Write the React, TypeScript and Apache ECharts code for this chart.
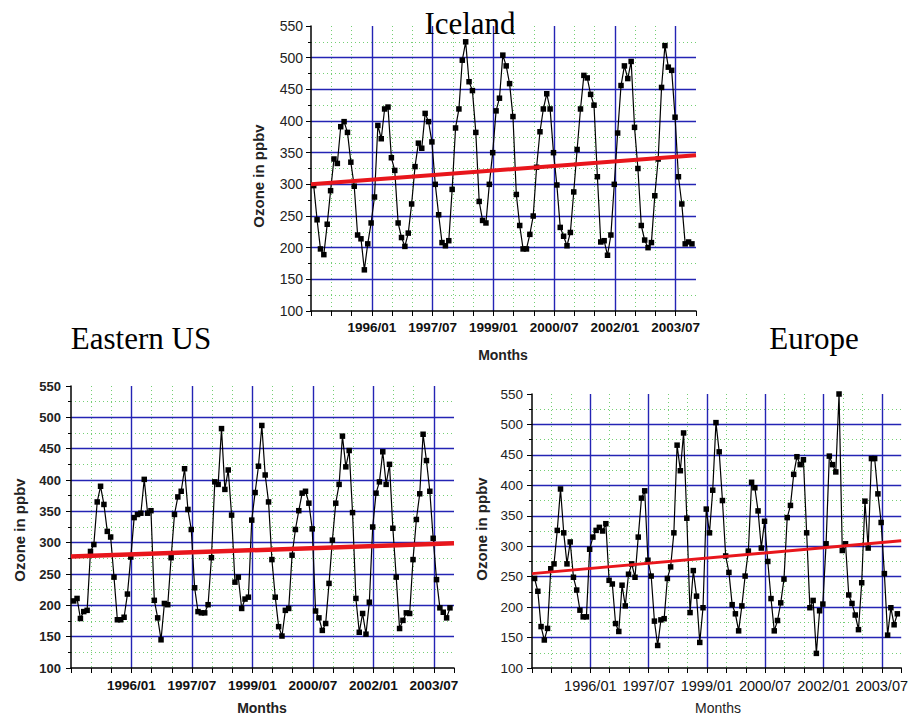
import React, { useEffect, useRef } from "react";
import * as echarts from "echarts";

// Monthly ozone (ppbv), first value = July 1994
const icelandValues = [
  298, 244, 198, 189, 237, 290, 340, 333, 391, 399,
  382, 335, 297, 220, 214, 165, 206, 239, 280, 393,
  372, 419, 422, 342, 322, 239, 216, 202, 223, 269,
  328, 365, 357, 412, 399, 367, 300, 252, 208, 203,
  211, 292, 389, 419, 496, 525, 462, 448, 382, 273,
  243, 239, 300, 350, 416, 436, 504, 487, 459, 407,
  284, 235, 198, 198, 221, 250, 327, 383, 419, 443,
  419, 350, 299, 232, 218, 203, 224, 288, 355, 419,
  472, 468, 442, 425, 312, 209, 211, 188, 220, 300,
  381, 456, 487, 467, 494, 390, 325, 235, 212, 200,
  208, 282, 340, 453, 519, 485, 480, 406, 312, 269,
  206, 209, 206,
];
const easternUSValues = [
  207, 211, 179, 190, 192, 286, 297, 365, 390, 361,
  318, 309, 245, 177, 177, 181, 218, 277, 340, 345,
  347, 401, 347, 351, 208, 180, 145, 203, 201, 276,
  345, 373, 382, 418, 353, 321, 228, 190, 188, 188,
  201, 276, 397, 393, 482, 385, 416, 344, 237, 245,
  195, 210, 213, 336, 380, 422, 487, 408, 365, 273,
  213, 166, 151, 192, 195, 280, 321, 351, 379, 382,
  363, 322, 191, 180, 160, 171, 235, 304, 363, 393,
  470, 421, 447, 348, 211, 157, 187, 154, 205, 325,
  379, 397, 445, 393, 425, 323, 245, 163, 176, 188,
  187, 273, 337, 378, 473, 431, 382, 307, 241, 196,
  189, 180, 196,
];
const europeValues = [
  247, 226, 168, 146, 165, 263, 271, 326, 394, 322,
  271, 307, 249, 228, 195, 184, 184, 295, 315, 326,
  331, 325, 337, 244, 238, 173, 160, 236, 202, 254,
  271, 249, 315, 379, 391, 277, 251, 177, 137, 179,
  181, 247, 266, 322, 466, 424, 486, 346, 191, 260,
  218, 142, 199, 361, 322, 392, 503, 455, 375, 284,
  257, 204, 189, 161, 202, 251, 292, 405, 396, 358,
  297, 341, 275, 214, 161, 178, 207, 246, 347, 367,
  418, 447, 434, 442, 322, 199, 211, 124, 194, 205,
  304, 448, 434, 422, 550, 293, 304, 220, 206, 187,
  163, 240, 374, 297, 444, 444, 386, 339, 255, 154,
  199, 171, 189,
];

// Linear trend: value at start (1994/07) and end (2004/01) of the axis
const icelandTrend = [300, 346];
const easternUSTrend = [278, 299];
const europeTrend = [255, 309];

const titles = ["Iceland", "Eastern US", "Europe"];
const tickLabels = ["1996/01", "1997/07", "1999/01", "2000/07", "2002/01", "2003/07"];

const START_YEAR = 1994;
const START_MONTH = 7; // axis origin = 1994/07
const AXIS_MONTHS = 114; // to 2004/01
const POINT_OFFSET = 0.8; // monthly means sit inside their month

const BLUE = "#2424b4";
const GREEN = "#74cf74";
const RED = "#e8161c";
const SANS = '"Liberation Sans", Arial, sans-serif';
const SERIF = '"Liberation Serif", "Times New Roman", serif';

function monthLabel(v: number): string {
  const t = START_YEAR * 12 + (START_MONTH - 1) + Math.round(v);
  const y = Math.floor(t / 12);
  const m = (t % 12) + 1;
  const s = `${y}/${m < 10 ? "0" + m : m}`;
  return tickLabels.indexOf(s) >= 0 ? s : "";
}

export default function App() {
  const ref = useRef<HTMLDivElement>(null);
  useEffect(() => {
    document.body.style.margin = "0";
    if (!ref.current) return;
    const chart = echarts.init(ref.current, null, { renderer: "svg" });

    const grids = [
      { left: 311, top: 26, width: 385, height: 285 },
      { left: 71, top: 386, width: 383, height: 282 },
      { left: 532, top: 394, width: 373, height: 274 },
    ];
    const xLabelStyles = [
      { fontSize: 13.5, fontWeight: "bold" as const, margin: 9 },
      { fontSize: 13.5, fontWeight: "bold" as const, margin: 10 },
      { fontSize: 14.5, fontWeight: "normal" as const, margin: 10 },
    ];
    const yLabelStyles = [
      { fontSize: 14, fontWeight: "normal" as const, margin: 8 },
      { fontSize: 13, fontWeight: "bold" as const, margin: 10 },
      { fontSize: 13.5, fontWeight: "normal" as const, margin: 9 },
    ];

    const xAxis: any[] = [];
    const yAxis: any[] = [];
    grids.forEach((_, g) => {
      xAxis.push({
        gridIndex: g,
        type: "value",
        position: "bottom",
        min: 0,
        max: AXIS_MONTHS,
        interval: 18,
        z: 3,
        axisLine: { show: true, onZero: false, lineStyle: { color: "#000", width: 1.5 } },
        axisTick: { show: false },
        axisLabel: {
          formatter: (v: number) => monthLabel(v),
          color: "#111",
          fontFamily: SANS,
          ...xLabelStyles[g],
        },
        splitLine: {
          show: true,
          showMinLine: false,
          showMaxLine: false,
          lineStyle: { color: BLUE, width: 1.4 },
        },
      });
      xAxis.push({
        gridIndex: g,
        type: "value",
        position: "bottom",
        min: 0,
        max: AXIS_MONTHS,
        interval: 6,
        z: 1,
        axisLine: { show: false, onZero: false },
        axisTick: { show: true, length: 5, lineStyle: { color: "#000", width: 1 } },
        axisLabel: { show: false },
        splitLine: {
          show: true,
          showMinLine: false,
          showMaxLine: false,
          lineStyle: { color: GREEN, width: 1, type: [1, 3] },
        },
      });
      yAxis.push({
        gridIndex: g,
        type: "value",
        min: 100,
        max: 550,
        interval: 50,
        z: 3,
        axisLine: { show: true, onZero: false, lineStyle: { color: "#000", width: 1.5 } },
        axisTick: { show: true, length: 5, lineStyle: { color: "#000" } },
        minorTick: { show: true, splitNumber: 2, length: 3, lineStyle: { color: "#000" } },
        minorSplitLine: { show: true, lineStyle: { color: GREEN, width: 1, type: [1, 3] } },
        splitLine: {
          show: true,
          showMinLine: false,
          showMaxLine: false,
          lineStyle: { color: BLUE, width: 1.4 },
        },
        axisLabel: { color: "#222", fontFamily: SANS, ...yLabelStyles[g] },
      });
    });

    const datasets = [icelandValues, easternUSValues, europeValues];
    const trends = [icelandTrend, easternUSTrend, europeTrend];
    const trendWidths = [4, 4.5, 3];
    const series: any[] = [];
    datasets.forEach((vals, g) => {
      series.push({
        type: "line",
        xAxisIndex: g * 2,
        yAxisIndex: g,
        data: vals.map((v, k) => [k + POINT_OFFSET, v]),
        symbol: "rect",
        symbolSize: 5.5,
        showSymbol: true,
        showAllSymbol: true,
        lineStyle: { color: "#000", width: 1.2 },
        itemStyle: { color: "#000" },
        z: 5,
      });
      series.push({
        type: "line",
        xAxisIndex: g * 2,
        yAxisIndex: g,
        data: [
          [0, trends[g][0]],
          [AXIS_MONTHS, trends[g][1]],
        ],
        symbol: "none",
        lineStyle: { color: RED, width: trendWidths[g] },
        z: 6,
      });
    });

    const titleFont = `31px ${SERIF}`;
    const graphic: any[] = [
      { type: "text", x: 470, y: 23, z: 10, style: { text: titles[0], font: titleFont, fill: "#000", align: "center", verticalAlign: "middle" } },
      { type: "text", x: 141, y: 338, z: 10, style: { text: titles[1], font: titleFont, fill: "#000", align: "center", verticalAlign: "middle" } },
      { type: "text", x: 814, y: 338, z: 10, style: { text: titles[2], font: titleFont, fill: "#000", align: "center", verticalAlign: "middle" } },
      { type: "text", x: 258, y: 176, rotation: Math.PI / 2, z: 10, style: { text: "Ozone in ppbv", font: `bold 15px ${SANS}`, fill: "#222", align: "center", verticalAlign: "middle" } },
      { type: "text", x: 19, y: 530, rotation: Math.PI / 2, z: 10, style: { text: "Ozone in ppbv", font: `bold 15px ${SANS}`, fill: "#222", align: "center", verticalAlign: "middle" } },
      { type: "text", x: 481, y: 529, rotation: Math.PI / 2, z: 10, style: { text: "Ozone in ppbv", font: `bold 15px ${SANS}`, fill: "#222", align: "center", verticalAlign: "middle" } },
      { type: "text", x: 503, y: 355, z: 10, style: { text: "Months", font: `bold 14px ${SANS}`, fill: "#222", align: "center", verticalAlign: "middle" } },
      { type: "text", x: 262, y: 708, z: 10, style: { text: "Months", font: `bold 14px ${SANS}`, fill: "#222", align: "center", verticalAlign: "middle" } },
      { type: "text", x: 718, y: 708, z: 10, style: { text: "Months", font: `14px ${SANS}`, fill: "#222", align: "center", verticalAlign: "middle" } },
    ];

    chart.setOption({
      animation: false,
      backgroundColor: "#fff",
      grid: grids,
      xAxis,
      yAxis,
      series,
      graphic,
    });
    return () => chart.dispose();
  }, []);

  return (
    <div
      ref={ref}
      style={{ position: "fixed", left: 0, top: 0, width: 911, height: 718 }}
    />
  );
}
